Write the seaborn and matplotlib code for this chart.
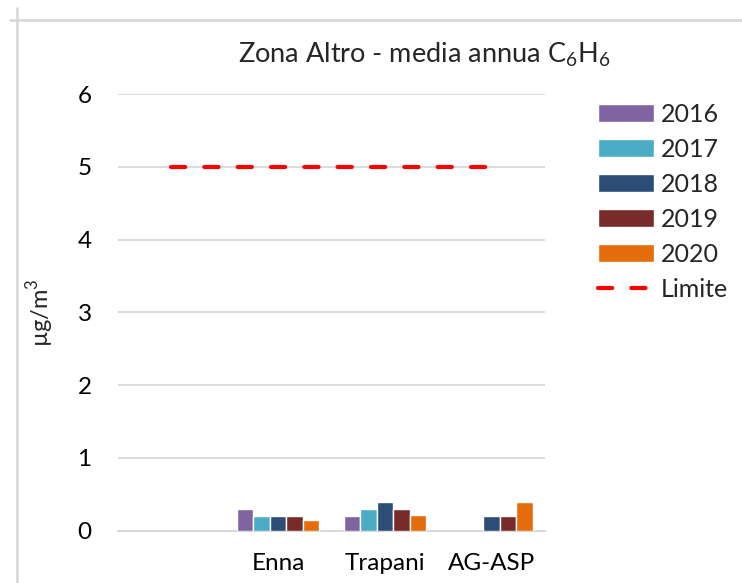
import pandas as pd
import matplotlib.pyplot as plt
import seaborn as sns
from matplotlib.lines import Line2D

# data
stations = ["", "Enna", "Trapani", "AG-ASP"]
years = ["2016", "2017", "2018", "2019", "2020"]
v2016 = [None, 0.3, 0.2, None]
v2017 = [None, 0.2, 0.3, None]
v2018 = [None, 0.2, 0.4, 0.2]
v2019 = [None, 0.2, 0.3, 0.2]
v2020 = [None, 0.15, 0.22, 0.4]
limite = [5, 5, 5, 5]
colors = ["#8064A2", "#4BACC6", "#2C4D75", "#772C2A", "#E46C0A"]

rows = []
for year, vals in zip(years, [v2016, v2017, v2018, v2019, v2020]):
    for st, v in zip(stations, vals):
        if v is not None:
            rows.append({"Stazione": st, "Anno": year, "Valore": v})
df = pd.DataFrame(rows)

sns.set_style("white")
plt.rcParams['font.family'] = ['Lato', 'DejaVu Sans']
plt.rcParams['mathtext.fontset'] = 'custom'
plt.rcParams['mathtext.rm'] = 'Lato'

fig = plt.figure(figsize=(7.42, 5.83), dpi=100)
ax = fig.add_axes([118 / 742, 1 - 530.7 / 583, 427 / 742, 436.7 / 583])

sns.barplot(data=df, x="Stazione", y="Valore", hue="Anno", order=stations,
            hue_order=years, palette=colors, width=0.77, saturation=1,
            errorbar=None, ax=ax, zorder=3)
ax.plot(range(len(stations)), limite, color="#FF0000", lw=3,
        dashes=(3.4, 4.6), dash_capstyle="round", zorder=4, label="Limite")

ax.set_ylim(0, 6)
ax.set_xlim(-0.5, len(stations) - 0.5)
ax.set_yticks(range(0, 7))
ax.yaxis.grid(True, color="#d9d9d9", lw=1.3, zorder=0)
ax.set_axisbelow(True)
for s in ["top", "right", "left"]:
    ax.spines[s].set_visible(False)
ax.spines["bottom"].set_color("#d9d9d9")
ax.spines["bottom"].set_linewidth(1.5)
ax.tick_params(axis="both", length=0, labelsize=17.5, colors="black")
ax.tick_params(axis="x", pad=16)
ax.tick_params(axis="y", pad=19)
ax.set_xlabel("")
ax.set_ylabel("µg/m$^3$", fontsize=17)
ax.yaxis.set_label_coords(-0.145, 0.5)

fig.text(424 / 742, 1 - 55 / 583, "Zona Altro - media annua C$_6$H$_6$",
         ha="center", va="center", fontsize=19.5)

handles, labels = ax.get_legend_handles_labels()
ax.legend(handles, labels, loc="upper left", frameon=False,
          bbox_to_anchor=(598 / 742, 1 - 103 / 583), bbox_transform=fig.transFigure,
          borderpad=0, borderaxespad=0, fontsize=18, handlelength=2.25,
          handleheight=0.75, handletextpad=0.25, labelspacing=0.48)

# spreadsheet cell borders around the chart
fig.add_artist(Line2D([10 / 742, 1], [1 - 20 / 583, 1 - 20 / 583],
                      color="#d9d9d9", lw=2, transform=fig.transFigure))
fig.add_artist(Line2D([17 / 742, 17 / 742], [0, 1 - 8 / 583],
                      color="#d9d9d9", lw=2, transform=fig.transFigure))

fig.savefig("out.png", dpi=100)
